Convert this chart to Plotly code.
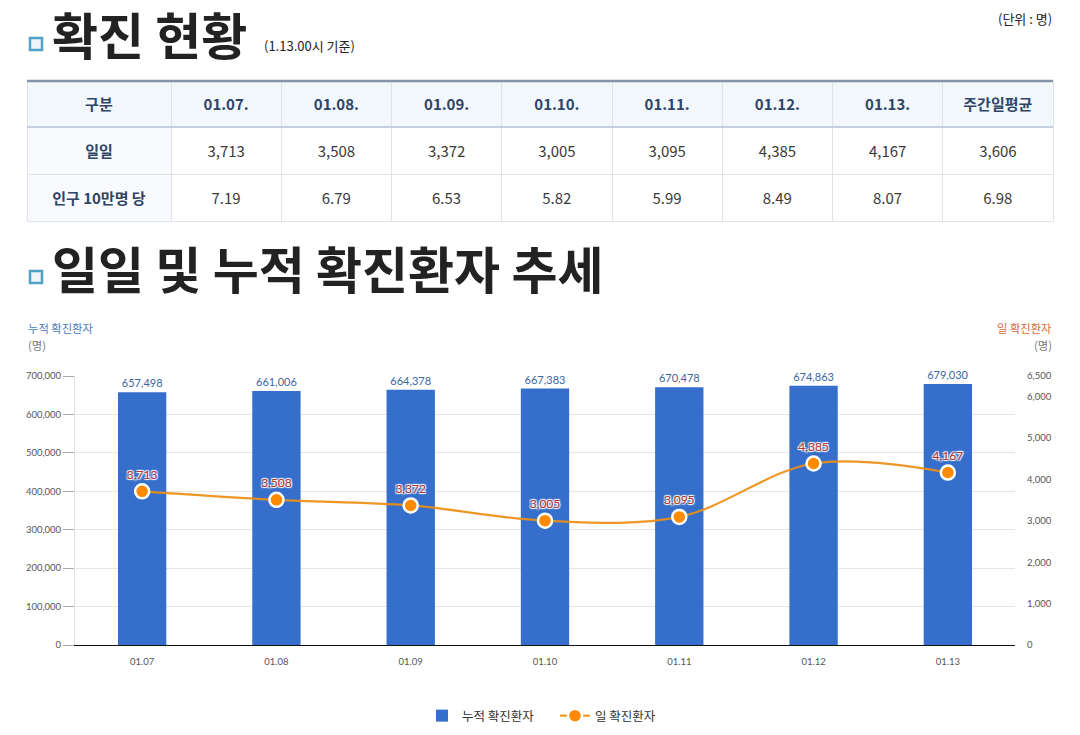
import plotly.graph_objects as go

# page body has an 8px margin, so the figure is drawn 16px smaller
OFF = 8
W, H = 1080 - 2 * OFF, 735 - 2 * OFF

# data
table_dates = ["01.07.", "01.08.", "01.09.", "01.10.", "01.11.", "01.12.", "01.13."]
axis_dates = ["01.07", "01.08", "01.09", "01.10", "01.11", "01.12", "01.13"]
daily_cases = [3713, 3508, 3372, 3005, 3095, 4385, 4167]
per_100k = [7.19, 6.79, 6.53, 5.82, 5.99, 8.49, 8.07]
weekly_avg_daily = 3606
weekly_avg_per_100k = 6.98
cumulative_cases = [657498, 661006, 664378, 667383, 670478, 674863, 679030]
right_ticks = [0, 1000, 2000, 3000, 4000, 5000, 6000, 6500]

KR = "Noto Sans CJK KR"
NUM = "Lato"
NAVY = "#2f4566"


def px(x):
    return (x - OFF) / W


def py(y):
    return 1 - (y - OFF) / H


# table cells put text at the top; a tiny invisible first line pushes it to the middle
PUSH = "<span style='font-size:2px;color:rgba(0,0,0,0)'>.</span><br>"


def cell(s, bold=False):
    return PUSH + ("<b>%s</b>" % s if bold else s)


fig = go.Figure()

#summary table at the top
header_vals = [cell("구분", True)] + [cell(d, True) for d in table_dates] + [cell("주간일평균", True)]
col_vals = [[cell("일일", True), cell("인구 10만명 당", True)]]
for d, p in zip(daily_cases, per_100k):
    col_vals.append([cell(f"{d:,}"), cell(f"{p:.2f}")])
col_vals.append([cell(f"{weekly_avg_daily:,}"), cell(f"{weekly_avg_per_100k:.2f}")])

fig.add_trace(go.Table(
    domain=dict(x=[px(27), px(1053)], y=[py(222), py(80)]),
    columnwidth=[144] + [110.25] * 8,
    header=dict(
        values=header_vals,
        height=47,
        fill_color="#f2f7fc",
        line=dict(color="#dde3ea", width=1),
        font=dict(family=KR, size=15, color=NAVY),
        align="center",
    ),
    cells=dict(
        values=col_vals,
        height=47,
        fill_color=[["#f8fafd", "#f8fafd"]] + [["white", "white"]] * 8,
        line=dict(color="#e0e4e9", width=1),
        font=dict(family=KR, size=15, color=[NAVY] + ["#3a3a3a"] * 8),
        align="center",
    ),
))

#bars: cumulative cases
fig.add_trace(go.Bar(
    x=axis_dates, y=cumulative_cases, name="누적 확진환자",
    marker=dict(color="#356fcb", line=dict(width=0)),
    width=0.36,
    text=[f"{v:,}" for v in cumulative_cases],
    textposition="outside",
    textfont=dict(family=NUM, size=11, color="#3b66a3"),
    cliponaxis=False,
))

#line: daily cases
fig.add_trace(go.Scatter(
    x=axis_dates, y=daily_cases, name="일 확진환자", yaxis="y2",
    mode="lines+markers+text",
    line=dict(color="rgba(238,142,20,0.92)", width=2.2, shape="spline"),
    marker=dict(size=14, color="#ff8a00", line=dict(color="white", width=2.5)),
    text=[f"{v:,}" for v in daily_cases],
    textposition="top center",
    textfont=dict(family=NUM, size=12, color="#b8312a",
                  shadow="1px 1px 1px #fff, -1px -1px 1px #fff, 1px -1px 1px #fff, -1px 1px 1px #fff"),
    cliponaxis=False,
))

fig.update_layout(
    width=W, height=H,
    margin=dict(l=0, r=0, t=0, b=0, autoexpand=False),
    paper_bgcolor="white", plot_bgcolor="white",
    font=dict(family=KR, color="#333"),
    xaxis=dict(
        domain=[px(75), px(1015)],
        showline=True, linecolor="#111", linewidth=1.3,
        showgrid=False, ticks="",
        tickfont=dict(family=NUM, size=9.5, color="#555"),
        ticklabelstandoff=7,
        fixedrange=True,
    ),
    yaxis=dict(
        domain=[py(645), py(376)],
        range=[0, 700000], dtick=100000, tickformat=",",
        showgrid=True, gridcolor="#e6e6e6", gridwidth=1,
        showline=True, linecolor="#e3e3e3",
        ticks="outside", ticklen=11, tickcolor="#aaa",
        ticklabelstandoff=0,
        tickfont=dict(family=NUM, size=9.5, color="#555"),
        zeroline=False,
    ),
    yaxis2=dict(
        overlaying="y", side="right",
        range=[0, 6500], tickvals=right_ticks, tickformat=",",
        showgrid=False, zeroline=False, showline=False, ticks="",
        ticklabelstandoff=11,
        tickfont=dict(family=NUM, size=9.5, color="#555"),
    ),
    legend=dict(
        orientation="h", x=px(422), xanchor="left", y=py(716), yanchor="middle",
        font=dict(family=KR, size=12.5, color="#333"),
        itemwidth=30, entrywidth=88, traceorder="normal",
    ),
    showlegend=True,
)

#table borders
fig.add_shape(type="line", xref="paper", yref="paper",
              x0=px(27), x1=px(1053), y0=py(81), y1=py(81),
              line=dict(color="#8493a8", width=2.5))
fig.add_shape(type="line", xref="paper", yref="paper",
              x0=px(27), x1=px(1053), y0=py(127), y1=py(127),
              line=dict(color="#bac7d8", width=1.5))

#section title squares
for y0 in (38, 271):
    fig.add_shape(type="rect", xref="paper", yref="paper",
                  x0=px(30), x1=px(42), y0=py(y0 + 12), y1=py(y0),
                  line=dict(color="#4fa1c6", width=2.5), fillcolor="#eef6fb")

annos = [
    dict(text="<b>확진 현황</b>", x=px(50), y=py(33), size=50, color="#222", xanchor="left"),
    dict(text="(1.13.00시 기준)", x=px(262), y=py(45), size=13, color="#222", xanchor="left"),
    dict(text="(단위 : 명)", x=px(1054), y=py(18), size=13, color="#222", xanchor="right"),
    dict(text="<b>일일 및 누적 확진환자 추세</b>", x=px(50), y=py(267), size=50, color="#222", xanchor="left"),
    dict(text="누적 확진환자", x=px(26), y=py(328), size=11.3, color="#4a7cbc", xanchor="left"),
    dict(text="(명)", x=px(26), y=py(345), size=11.3, color="#777", xanchor="left"),
    dict(text="일 확진환자", x=px(1054), y=py(328), size=11.3, color="#d86a3a", xanchor="right"),
    dict(text="(명)", x=px(1054), y=py(345), size=11.3, color="#777", xanchor="right"),
]
for a in annos:
    fig.add_annotation(text=a["text"], x=a["x"], y=a["y"], xref="paper", yref="paper",
                       xanchor=a["xanchor"], yanchor="middle", showarrow=False,
                       font=dict(family=KR, size=a["size"], color=a["color"]))

fig.write_html("out.html")
